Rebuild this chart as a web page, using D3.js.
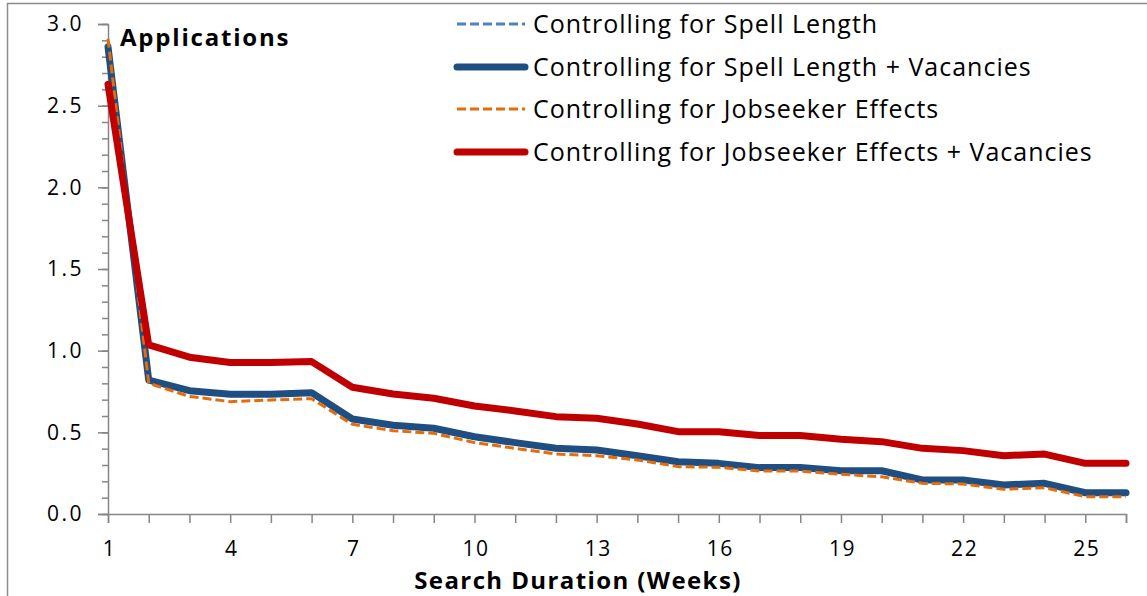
<!DOCTYPE html>
<html>
<head>
<meta charset="utf-8">
<script src="https://cdn.jsdelivr.net/npm/d3@7"></script>
<style>
body { margin: 0; background: #fff; }
svg { display: block; font-family: "Open Sans", Lato, sans-serif; }
</style>
</head>
<body>
<div id="chart"></div>
<script>
// categories: search duration in weeks
var weeks = [1, 2, 3, 4, 5, 6, 7, 8, 9, 10, 11, 12, 13, 14, 15, 16, 17, 18, 19, 20, 21, 22, 23, 24, 25, 26];
var weekLabels = [1, 4, 7, 10, 13, 16, 19, 22, 25];
var yMajor = [0, 0.5, 1, 1.5, 2, 2.5, 3];

// series values (applications)
var spellLength = [2.88, 0.83, 0.75, 0.73, 0.73, 0.74, 0.58, 0.54, 0.52, 0.47, 0.435, 0.40, 0.39, 0.355, 0.318, 0.308, 0.282, 0.282, 0.263, 0.263, 0.206, 0.206, 0.176, 0.186, 0.128, 0.128];
var spellVacancies = [2.86, 0.82, 0.755, 0.733, 0.733, 0.743, 0.582, 0.543, 0.525, 0.473, 0.437, 0.402, 0.392, 0.357, 0.32, 0.31, 0.284, 0.284, 0.265, 0.265, 0.208, 0.208, 0.178, 0.188, 0.13, 0.13];
var jobseeker = [2.91, 0.80, 0.72, 0.688, 0.698, 0.706, 0.549, 0.51, 0.494, 0.437, 0.402, 0.367, 0.357, 0.331, 0.29, 0.286, 0.263, 0.263, 0.243, 0.228, 0.188, 0.184, 0.151, 0.161, 0.106, 0.106];
var jobseekerVacancies = [2.63, 1.035, 0.96, 0.927, 0.927, 0.933, 0.776, 0.735, 0.709, 0.661, 0.631, 0.596, 0.586, 0.551, 0.504, 0.504, 0.48, 0.48, 0.457, 0.443, 0.402, 0.388, 0.357, 0.367, 0.31, 0.31];

var seriesNames = ["Controlling for Spell Length", "Controlling for Spell Length + Vacancies", "Controlling for Jobseeker Effects", "Controlling for Jobseeker Effects + Vacancies"];

var series = [
	{ name: seriesNames[0], values: spellLength, color: "#4F81BD", width: 3, dash: "9,4" },
	{ name: seriesNames[1], values: spellVacancies, color: "#1F4E82", width: 7, dash: null },
	{ name: seriesNames[2], values: jobseeker, color: "#E46C0A", width: 3, dash: "9,4" },
	{ name: seriesNames[3], values: jobseekerVacancies, color: "#C00000", width: 7, dash: null }
];

var W = 1147, H = 596;
var svg = d3.select("#chart").append("svg")
	.attr("width", W)
	.attr("height", H);

// outer frame
svg.append("rect")
	.attr("x", 7.5).attr("y", 3.5)
	.attr("width", W + 20).attr("height", H + 20)
	.attr("fill", "#fff")
	.attr("stroke", "#8c8c8c")
	.attr("stroke-width", 1.5);

var x = d3.scaleLinear().domain([1, 26]).range([108, 1126]);
var y = d3.scaleLinear().domain([0, 3]).range([514, 24]);

var axisColor = "#868686";

// y axis minor ticks
var yMinorTicks = d3.range(0, 31).map(function (d) { return d / 10; });
var yMinor = svg.append("g")
	.attr("transform", "translate(108,0)")
	.call(d3.axisLeft(y).tickValues(yMinorTicks).tickSize(6).tickFormat(""));
yMinor.select(".domain").remove();
yMinor.selectAll("line").attr("stroke", axisColor).attr("stroke-width", 1.5);

// y axis major
var yAxis = svg.append("g")
	.attr("transform", "translate(108,0)")
	.call(d3.axisLeft(y).tickValues(yMajor).tickSize(10).tickPadding(14).tickFormat(d3.format(".1f")));
yAxis.select(".domain").attr("stroke", axisColor).attr("stroke-width", 1.5);
yAxis.selectAll("line").attr("stroke", axisColor).attr("stroke-width", 1.5);
yAxis.selectAll("text")
	.attr("fill", "#000")
	.style("font-size", "21px")
	.style("letter-spacing", "2.5px")
	.style("font-family", "'Open Sans', sans-serif");

// x axis
var xAxis = svg.append("g")
	.attr("transform", "translate(0,514)")
	.call(d3.axisBottom(x).tickValues(weeks).tickSize(9).tickPadding(18)
		.tickFormat(function (d) { return weekLabels.indexOf(d) >= 0 ? d : ""; }));
xAxis.select(".domain").attr("stroke", axisColor).attr("stroke-width", 1.5);
xAxis.selectAll("line").attr("stroke", axisColor).attr("stroke-width", 1.5);
xAxis.selectAll("text")
	.attr("fill", "#000")
	.attr("dx", "1px")
	.style("font-size", "21px")
	.style("letter-spacing", "1.5px")
	.style("font-family", "'Open Sans', sans-serif");

// lines
var line = d3.line()
	.x(function (d, i) { return x(weeks[i]); })
	.y(function (d) { return y(d); });

svg.selectAll("path.series")
	.data(series)
	.enter()
	.append("path")
	.attr("class", "series")
	.attr("d", function (s) { return line(s.values); })
	.attr("fill", "none")
	.attr("stroke", function (s) { return s.color; })
	.attr("stroke-width", function (s) { return s.width; })
	.attr("stroke-dasharray", function (s) { return s.dash; })
	.attr("stroke-linejoin", "round")
	.attr("stroke-linecap", function (s) { return s.dash ? "butt" : "round"; });

// panel title
svg.append("text")
	.attr("x", 120).attr("y", 46)
	.style("font-size", "24px")
	.style("font-weight", "bold")
	.style("letter-spacing", "1.8px")
	.text("Applications");

// x axis title
svg.append("text")
	.attr("x", 578).attr("y", 589)
	.attr("text-anchor", "middle")
	.style("font-size", "24px")
	.style("font-weight", "bold")
	.style("letter-spacing", "1.4px")
	.text("Search Duration (Weeks)");

// legend
var legendY = [24, 67, 109, 152];
var legend = svg.selectAll("g.legend")
	.data(series)
	.enter()
	.append("g")
	.attr("class", "legend")
	.attr("transform", function (s, i) { return "translate(0," + legendY[i] + ")"; });

legend.append("line")
	.attr("x1", 457).attr("x2", 525)
	.attr("y1", 0).attr("y2", 0)
	.attr("stroke", function (s) { return s.color; })
	.attr("stroke-width", function (s) { return s.width; })
	.attr("stroke-dasharray", function (s) { return s.dash; })
	.attr("stroke-linecap", function (s) { return s.dash ? "butt" : "round"; });

legend.append("text")
	.attr("x", 533).attr("y", 0)
	.attr("dy", "0.35em")
	.style("font-size", "25px")
	.style("letter-spacing", "1px")
	.text(function (s) { return s.name; });
</script>
</body>
</html>
